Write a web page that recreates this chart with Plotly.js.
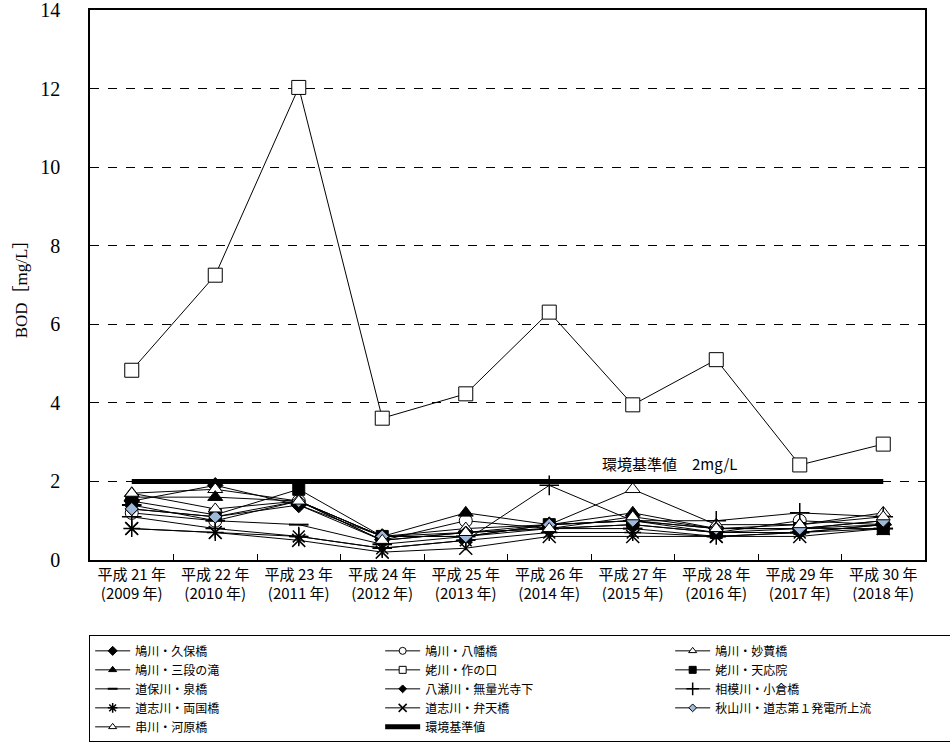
<!DOCTYPE html>
<html><head><meta charset="utf-8">
<script src="https://cdn.plot.ly/plotly-3.0.1.min.js"></script>
<style>html,body{margin:0;padding:0;background:#fff;}#chart{width:950px;height:747px;}</style>
</head><body><div id="chart"></div>
<script>
const years = ["平成 21 年<br>(2009 年)","平成 22 年<br>(2010 年)","平成 23 年<br>(2011 年)","平成 24 年<br>(2012 年)","平成 25 年<br>(2013 年)","平成 26 年<br>(2014 年)","平成 27 年<br>(2015 年)","平成 28 年<br>(2016 年)","平成 29 年<br>(2017 年)","平成 30 年<br>(2018 年)"];

const hatogawaKubo    = [1.5, 1.9, 1.4, 0.6, 0.7, 0.9, 1.0, 0.8, 0.8, 0.9];
const hatogawaYawata  = [1.2, 1.0, 1.5, 0.5, 1.0, 0.8, 0.9, 0.7, 1.0, 0.9];
const hatogawaMyoken  = [1.7, 1.8, 1.5, 0.6, 0.8, 0.9, 1.8, 0.9, 0.9, 1.2];
const hatogawaSandan  = [1.6, 1.6, 1.5, 0.6, 1.2, 0.9, 1.2, 0.8, 0.8, 1.0];
const ubagawaSakunokuchi = [4.83, 7.25, 12.03, 3.61, 4.23, 6.31, 3.95, 5.1, 2.42, 2.95];
const ubagawaTenoin   = [1.5, 1.15, 1.8, 0.6, 0.6, 0.9, 1.0, 0.7, 0.8, 0.8];
const dohogawaIzumi   = [1.4, 1.0, 0.9, 0.4, 0.6, 0.8, 0.8, 0.6, 0.7, 0.8];
const yasegawaMuryo   = [1.3, 1.1, 1.4, 0.5, 0.7, 0.8, 0.9, 0.7, 0.7, 0.9];
const sagamiOgura     = [1.1, 0.8, 0.6, 0.3, 0.5, 1.9, 1.0, 1.0, 1.2, 1.1];
const doshiRyogoku    = [0.8, 0.7, 0.6, 0.3, 0.5, 0.7, 0.7, 0.6, 0.7, 0.9];
const doshiBenten     = [0.8, 0.7, 0.5, 0.2, 0.3, 0.6, 0.6, 0.6, 0.6, 0.8];
const akiyamaDoshi1   = [1.3, 1.1, 1.5, 0.6, 0.6, 0.9, 1.0, 0.8, 0.8, 1.0];
const kushikawaKawara = [1.7, 1.3, 1.5, 0.5, 0.7, 0.8, 1.1, 0.8, 0.9, 1.1];
const standardValue   = [2, 2, 2, 2, 2, 2, 2, 2, 2, 2];

const names = ["鳩川・久保橋","鳩川・八幡橋","鳩川・妙蕒橋","鳩川・三段の滝","姥川・作の口","姥川・天応院","道保川・泉橋","八瀬川・無量光寺下","相模川・小倉橋","道志川・両国橋","道志川・弁天橋","秋山川・道志第１発電所上流","串川・河原橋","環境基準値"];
const series = [hatogawaKubo, hatogawaYawata, hatogawaMyoken, hatogawaSandan, ubagawaSakunokuchi, ubagawaTenoin, dohogawaIzumi, yasegawaMuryo, sagamiOgura, doshiRyogoku, doshiBenten, akiyamaDoshi1, kushikawaKawara];

// marker styles: [symbol, size, fill, lineWidth, legendSize]
const styles = [
  ["diamond", 12, "#000", 1, 7],
  ["circle", 13, "#fff", 1, 7],
  ["triangle-up", 13, "#fff", 1, 7],
  ["triangle-up", 13, "#000", 1, 7],
  ["square", 14, "#fff", 1, 7],
  ["square", 12, "#000", 1, 7],
  ["line-ew", 14, "#000", 2, 7],
  ["diamond", 10, "#000", 1, 6],
  ["cross-thin", 14, "#000", 1.5, 9],
  ["asterisk", 14, "#000", 1.5, 8],
  ["x-thin", 13, "#000", 1.5, 8],
  ["diamond", 10, "#9db8d9", 1, 6],
  ["triangle-up", 12, "#fff", 1, 7]
];

const traces = [];
series.forEach((s, i) => {
  const st = styles[i];
  traces.push({
    x: years, y: s, type: "scatter", mode: "lines+markers", name: names[i], showlegend: false,
    line: {color: "#000", width: 1},
    marker: {symbol: st[0], size: st[1], color: st[2], line: {color: "#000", width: st[3]}}
  });
});
traces.push({x: years, y: standardValue, type: "scatter", mode: "lines", name: names[13], showlegend: false,
  line: {color: "#000", width: 5}});
// legend entries
series.forEach((s, i) => {
  const st = styles[i];
  traces.push({
    x: [null], y: [null], type: "scatter", mode: "lines+markers", name: names[i],
    line: {color: "#000", width: 1},
    marker: {symbol: st[0], size: st[4], color: st[2], line: {color: "#000", width: st[3]}}
  });
});
traces.push({x: [null], y: [null], type: "scatter", mode: "lines", name: names[13], line: {color: "#000", width: 5}});

const layout = {
  width: 950, height: 747,
  margin: {l: 90, r: 25, t: 10, b: 187, autoexpand: false},
  paper_bgcolor: "#fff", plot_bgcolor: "#fff",
  font: {family: "Noto Sans CJK JP, sans-serif", color: "#000"},
  xaxis: {
    type: "category", range: [-0.5, 9.5], showgrid: false,
    tickson: "boundaries", ticks: "inside", ticklen: 6, tickcolor: "#000",
    showline: true, linecolor: "#000", linewidth: 1.5, mirror: true,
    tickfont: {size: 15, family: "Noto Sans CJK JP, sans-serif"}, zeroline: false
  },
  yaxis: {
    range: [0, 14.001], tickvals: [0, 2, 4, 6, 8, 10, 12, 14], ticks: "inside", ticklen: 6, tickcolor: "#000",
    ticklabeloverflow: "allow",
    showgrid: true, gridcolor: "#000", griddash: "dash", gridwidth: 1,
    showline: true, linecolor: "#000", linewidth: 1.5, mirror: true, zeroline: false,
    tickfont: {size: 20, family: "Liberation Serif, serif"}, ticklabelstandoff: 24,
    title: {text: "BOD［mg/L］", font: {size: 17, family: "Liberation Serif, Noto Sans CJK JP, serif"}, standoff: 8}
  },
  legend: {
    orientation: "h", x: -0.001, xanchor: "left", y: -0.137, yanchor: "top",
    entrywidth: 240, itemwidth: 35, bordercolor: "#000", borderwidth: 1, bgcolor: "#fff",
    font: {size: 12, family: "Noto Sans CJK JP, sans-serif"}, tracegroupgap: 0
  },
  annotations: [{
    x: 6.45, y: 2.45, xref: "x", yref: "y", text: "環境基準値　2mg/L", showarrow: false,
    font: {size: 15, family: "Noto Sans CJK JP, sans-serif"}
  }]
};
Plotly.newPlot("chart", traces, layout, {displayModeBar: false});
</script></body></html>
